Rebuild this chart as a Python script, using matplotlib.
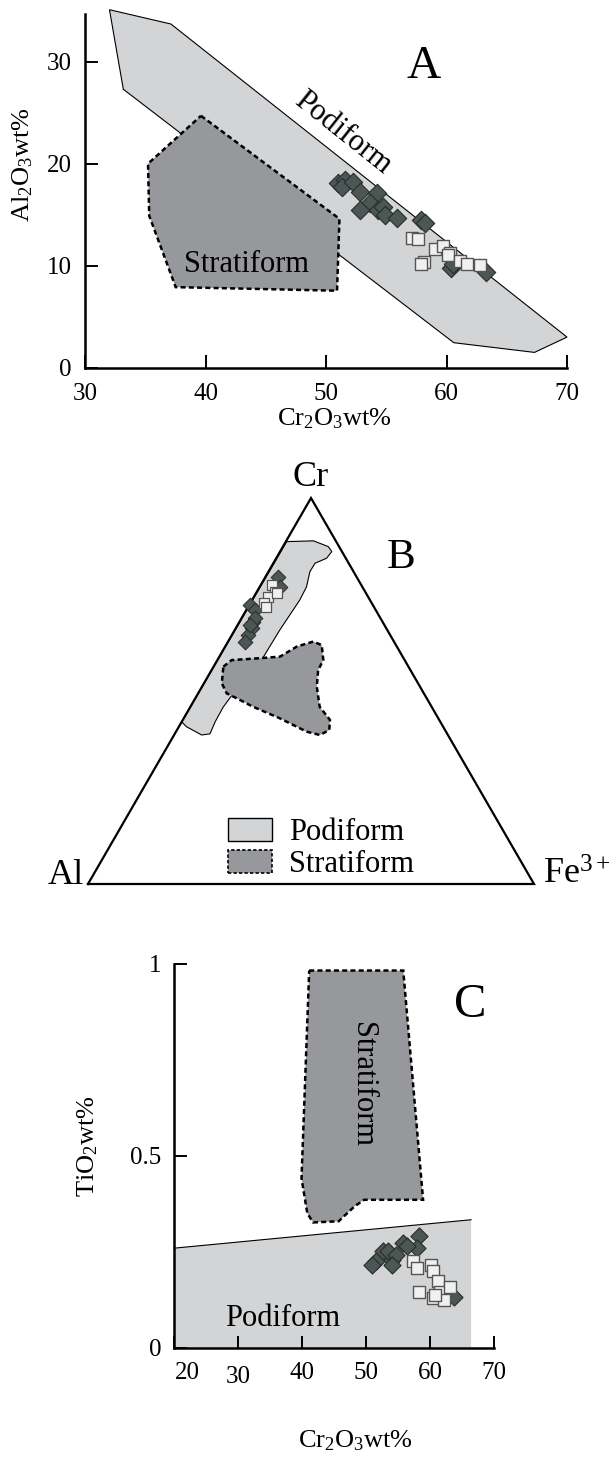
import numpy as np
import matplotlib
matplotlib.use('Agg')
import matplotlib.pyplot as plt
from matplotlib.patches import Polygon, Patch
import matplotlib.transforms as mtransforms

plt.rcParams['font.family'] = ['Liberation Serif', 'DejaVu Serif']
plt.rcParams['mathtext.fontset'] = 'custom'
plt.rcParams['mathtext.rm'] = 'Liberation Serif'
plt.rcParams['mathtext.it'] = 'Liberation Serif:italic'
plt.rcParams['mathtext.default'] = 'regular'

gris_pod = '#d3d4d6'
gris_strat = '#97989b'
verde = '#4b5754'
blanco = '#f0f0f0'

# ---------- datos panel A (Cr2O3 vs Al2O3) ----------
podA_cr = [32.0, 37.1, 70.0, 67.3, 60.6, 33.15]
podA_al = [35.1, 33.7, 3.0, 1.5, 2.45, 27.3]
strA_cr = [39.6, 51.1, 50.9, 37.5, 35.3, 35.2]
strA_al = [24.7, 14.6, 7.55, 7.9, 14.9, 20.0]

A_diam_cr = [51.0, 51.6, 51.3, 52.25, 52.8, 54.2, 53.6, 52.8, 54.3, 54.7, 54.9, 55.85, 57.9, 58.2, 60.4, 60.55, 63.3]
A_diam_al = [18.1, 18.4, 17.75, 18.2, 17.25, 17.1, 16.1, 15.5, 15.5, 15.8, 15.0, 14.65, 14.5, 14.2, 9.75, 10.2, 9.4]
A_sq_cr = [57.1, 57.65, 59.0, 59.7, 60.3, 58.1, 57.9, 60.15, 61.1, 61.7, 62.8]
A_sq_al = [12.7, 12.6, 11.6, 11.9, 11.2, 10.4, 10.2, 11.05, 10.5, 10.2, 10.1]

# ---------- datos panel B (ternario Cr - Al - Fe3+), fracciones Cr y Fe ----------
podB_cr = [0.887, 0.889, 0.874, 0.861, 0.844, 0.831, 0.809, 0.770, 0.736, 0.658, 0.580,
           0.494, 0.459, 0.420, 0.389, 0.386, 0.4075, 0.420]
podB_fe = [0.002, 0.061, 0.102, 0.116, 0.113, 0.0935, 0.093, 0.105, 0.107, 0.101, 0.099,
           0.079, 0.074, 0.075, 0.079, 0.062, 0.017, 0.0]
strB_cr = [0.563, 0.580, 0.585, 0.589, 0.615, 0.628, 0.619, 0.580, 0.554, 0.511, 0.459,
           0.425, 0.399, 0.386, 0.3946, 0.429, 0.459, 0.481, 0.494, 0.520]
strB_fe = [0.022, 0.032, 0.093, 0.136, 0.1605, 0.191, 0.2145, 0.2376, 0.239, 0.2575, 0.290,
           0.330, 0.3415, 0.327, 0.293, 0.216, 0.141, 0.093, 0.064, 0.040]

B_diam_cr = [0.796, 0.770, 0.723, 0.710, 0.680, 0.662, 0.645, 0.628, 0.689, 0.671]
B_diam_fe = [0.029, 0.046, 0.002, 0.019, 0.031, 0.036, 0.037, 0.038, 0.030, 0.028]
B_sq_cr = [0.775, 0.757, 0.744, 0.729, 0.718, 0.753]
B_sq_fe = [0.025, 0.041, 0.032, 0.029, 0.041, 0.047]

# ---------- datos panel C (Cr2O3 vs TiO2) ----------
podC_cr = [20, 66.4, 66.4, 20]
podC_ti = [0.260, 0.334, 0.0, 0.0]
strC_cr = [41.1, 55.8, 58.9, 49.7, 48.2, 45.7, 41.7, 40.8, 39.9]
strC_ti = [0.983, 0.983, 0.386, 0.386, 0.369, 0.330, 0.327, 0.351, 0.442]

C_diam_cr = [51.5, 52.7, 54.0, 55.8, 58.25, 57.9, 53.35, 54.6, 61.9, 63.8, 50.9, 54.0, 56.4]
C_diam_ti = [0.2255, 0.2515, 0.230, 0.273, 0.2905, 0.260, 0.2515, 0.243, 0.160, 0.134, 0.217, 0.217, 0.265]
C_sq_cr = [57.3, 57.9, 60.1, 60.4, 58.25, 61.3, 61.6, 63.1, 60.4, 62.2, 60.7]
C_sq_ti = [0.2255, 0.208, 0.217, 0.1995, 0.147, 0.1735, 0.147, 0.160, 0.130, 0.126, 0.139]


def tern(cr, fe):
    cr = np.asarray(cr)
    fe = np.asarray(fe)
    return fe + cr / 2, cr * np.sqrt(3) / 2


W, H = 614, 1457
fig = plt.figure(figsize=(W / 100, H / 100), dpi=100)

# ================= A =================
axA = fig.add_axes([85.4 / W, 1 - 367.7 / H, 481.6 / W, 353.9 / H])
axA.add_patch(Polygon(np.column_stack([podA_cr, podA_al]), closed=True, facecolor=gris_pod,
                      edgecolor='black', lw=0.8, clip_on=False, zorder=1))
axA.add_patch(Polygon(np.column_stack([strA_cr, strA_al]), closed=True, facecolor=gris_strat,
                      edgecolor='black', lw=1.8, linestyle=(0, (2, 1.3)), zorder=2))
axA.scatter(A_diam_cr, A_diam_al, marker='D', s=88, c=verde, edgecolors='#2b2b2b', linewidths=0.8, zorder=3)
axA.scatter(A_sq_cr, A_sq_al, marker='s', s=84, c=blanco, edgecolors='#555555', linewidths=1.0, zorder=4)
axA.set_xlim(30, 70)
axA.set_ylim(0, 34.7)
axA.set_xticks([30, 40, 50, 60, 70])
axA.set_yticks([0, 10, 20, 30])
for s in ['top', 'right']:
    axA.spines[s].set_visible(False)
for s in ['left', 'bottom']:
    axA.spines[s].set_linewidth(1.8)
axA.tick_params(direction='in', length=9.5, width=1.4, labelsize=18)
axA.tick_params(axis='x', pad=11)
axA.tick_params(axis='y', pad=10)
axA.set_xlabel('Cr$_2$O$_3$wt%', fontsize=19)
axA.set_ylabel('Al$_2$O$_3$wt%', fontsize=19)
axA.xaxis.set_label_coords(0.518, -0.108)
axA.yaxis.set_label_coords(-0.105, 0.573)
axA.text(51.4, 23.0, 'Podiform', fontsize=22, rotation=-38.5, ha='center', va='center', zorder=5)
axA.text(43.4, 10.1, 'Stratiform', fontsize=22, ha='center', va='center', zorder=5)
axA.text(58.1, 29.5, 'A', fontsize=34, ha='center', va='center')

# ================= B =================
axB = fig.add_axes([88 / W, 1 - 884 / H, 446 / W, 386 / H])
axB.set_xlim(0, 1)
axB.set_ylim(0, np.sqrt(3) / 2)
axB.axis('off')
px, py = tern(podB_cr, podB_fe)
axB.add_patch(Polygon(np.column_stack([px, py]), closed=True, facecolor=gris_pod,
                      edgecolor='black', lw=0.8, zorder=1))
sx, sy = tern(strB_cr, strB_fe)
axB.add_patch(Polygon(np.column_stack([sx, sy]), closed=True, facecolor=gris_strat,
                      edgecolor='black', lw=1.8, linestyle=(0, (2, 1.3)), zorder=2))
tx, ty = tern([0, 1, 0, 0], [0, 0, 1, 0])
axB.plot(tx, ty, color='black', lw=1.6, clip_on=False, zorder=3, solid_joinstyle='miter')
dx, dy = tern(B_diam_cr, B_diam_fe)
axB.scatter(dx, dy, marker='D', s=56, c=verde, edgecolors='#2b2b2b', linewidths=0.7, zorder=4, clip_on=False)
qx, qy = tern(B_sq_cr, B_sq_fe)
axB.scatter(qx, qy, marker='s', s=62, c=blanco, edgecolors='#555555', linewidths=0.9, zorder=5, clip_on=False)
axB.text(0.5, 0.913, 'Cr', fontsize=26, ha='center', va='center')
axB.text(0.702, 0.731, 'B', fontsize=31, ha='center', va='center')
axB.text(-0.01, 0.0, 'Al', fontsize=26, ha='right', va='baseline')
axB.text(1.02, 0.0, 'Fe$^{3+}$', fontsize=26, ha='left', va='baseline')
handles = [Patch(facecolor=gris_pod, edgecolor='black', lw=1.0),
           Patch(facecolor=gris_strat, edgecolor='black', lw=1.2, linestyle=(0, (2, 1.3)))]
axB.legend(handles, ['Podiform', 'Stratiform'], loc='lower left', bbox_to_anchor=(0.314, 0.012),
           frameon=False, fontsize=22, handlelength=1.45, handleheight=0.8, handletextpad=0.55,
           labelspacing=0.1, borderpad=0, borderaxespad=0)

# ================= C =================
axC = fig.add_axes([174.2 / W, 1 - 1348 / H, 319.9 / W, 384 / H])
axC.add_patch(Polygon(np.column_stack([podC_cr, podC_ti]), closed=True, facecolor=gris_pod,
                      edgecolor='none', zorder=1))
axC.plot(podC_cr[:2], podC_ti[:2], color='black', lw=0.8, zorder=2)
axC.add_patch(Polygon(np.column_stack([strC_cr, strC_ti]), closed=True, facecolor=gris_strat,
                      edgecolor='black', lw=1.8, linestyle=(0, (2, 1.3)), zorder=2))
axC.scatter(C_diam_cr, C_diam_ti, marker='D', s=76, c=verde, edgecolors='#2b2b2b', linewidths=0.8, zorder=3)
axC.scatter(C_sq_cr, C_sq_ti, marker='s', s=68, c=blanco, edgecolors='#555555', linewidths=1.0, zorder=4)
axC.set_xlim(20, 70)
axC.set_ylim(0, 1)
axC.set_xticks([20, 30, 40, 50, 60, 70])
axC.set_yticks([0, 0.5, 1])
axC.set_yticklabels(['0', '0.5', '1'])
for s in ['top', 'right']:
    axC.spines[s].set_visible(False)
for s in ['left', 'bottom']:
    axC.spines[s].set_linewidth(1.8)
    axC.spines[s].set_zorder(5)
axC.tick_params(direction='in', length=9, width=1.4, labelsize=18)
axC.tick_params(axis='x', pad=10)
axC.tick_params(axis='y', pad=9)
xl = axC.get_xticklabels()
xl[0].set_transform(xl[0].get_transform() + mtransforms.ScaledTranslation(0.13, 0, fig.dpi_scale_trans))
xl[1].set_transform(xl[1].get_transform() + mtransforms.ScaledTranslation(0, -0.04, fig.dpi_scale_trans))
axC.set_xlabel('Cr$_2$O$_3$wt%', fontsize=19)
axC.set_ylabel('TiO$_2$wt%', fontsize=19)
axC.xaxis.set_label_coords(0.565, -0.21)
axC.yaxis.set_label_coords(-0.232, 0.526)
axC.text(37.0, 0.078, 'Podiform', fontsize=22, ha='center', va='center', zorder=5)
axC.text(49.5, 0.687, 'Stratiform', fontsize=22, rotation=270, ha='center', va='center', zorder=5)
axC.text(66.2, 0.893, 'C', fontsize=35, ha='center', va='center')

fig.savefig('out.png', dpi=100)
